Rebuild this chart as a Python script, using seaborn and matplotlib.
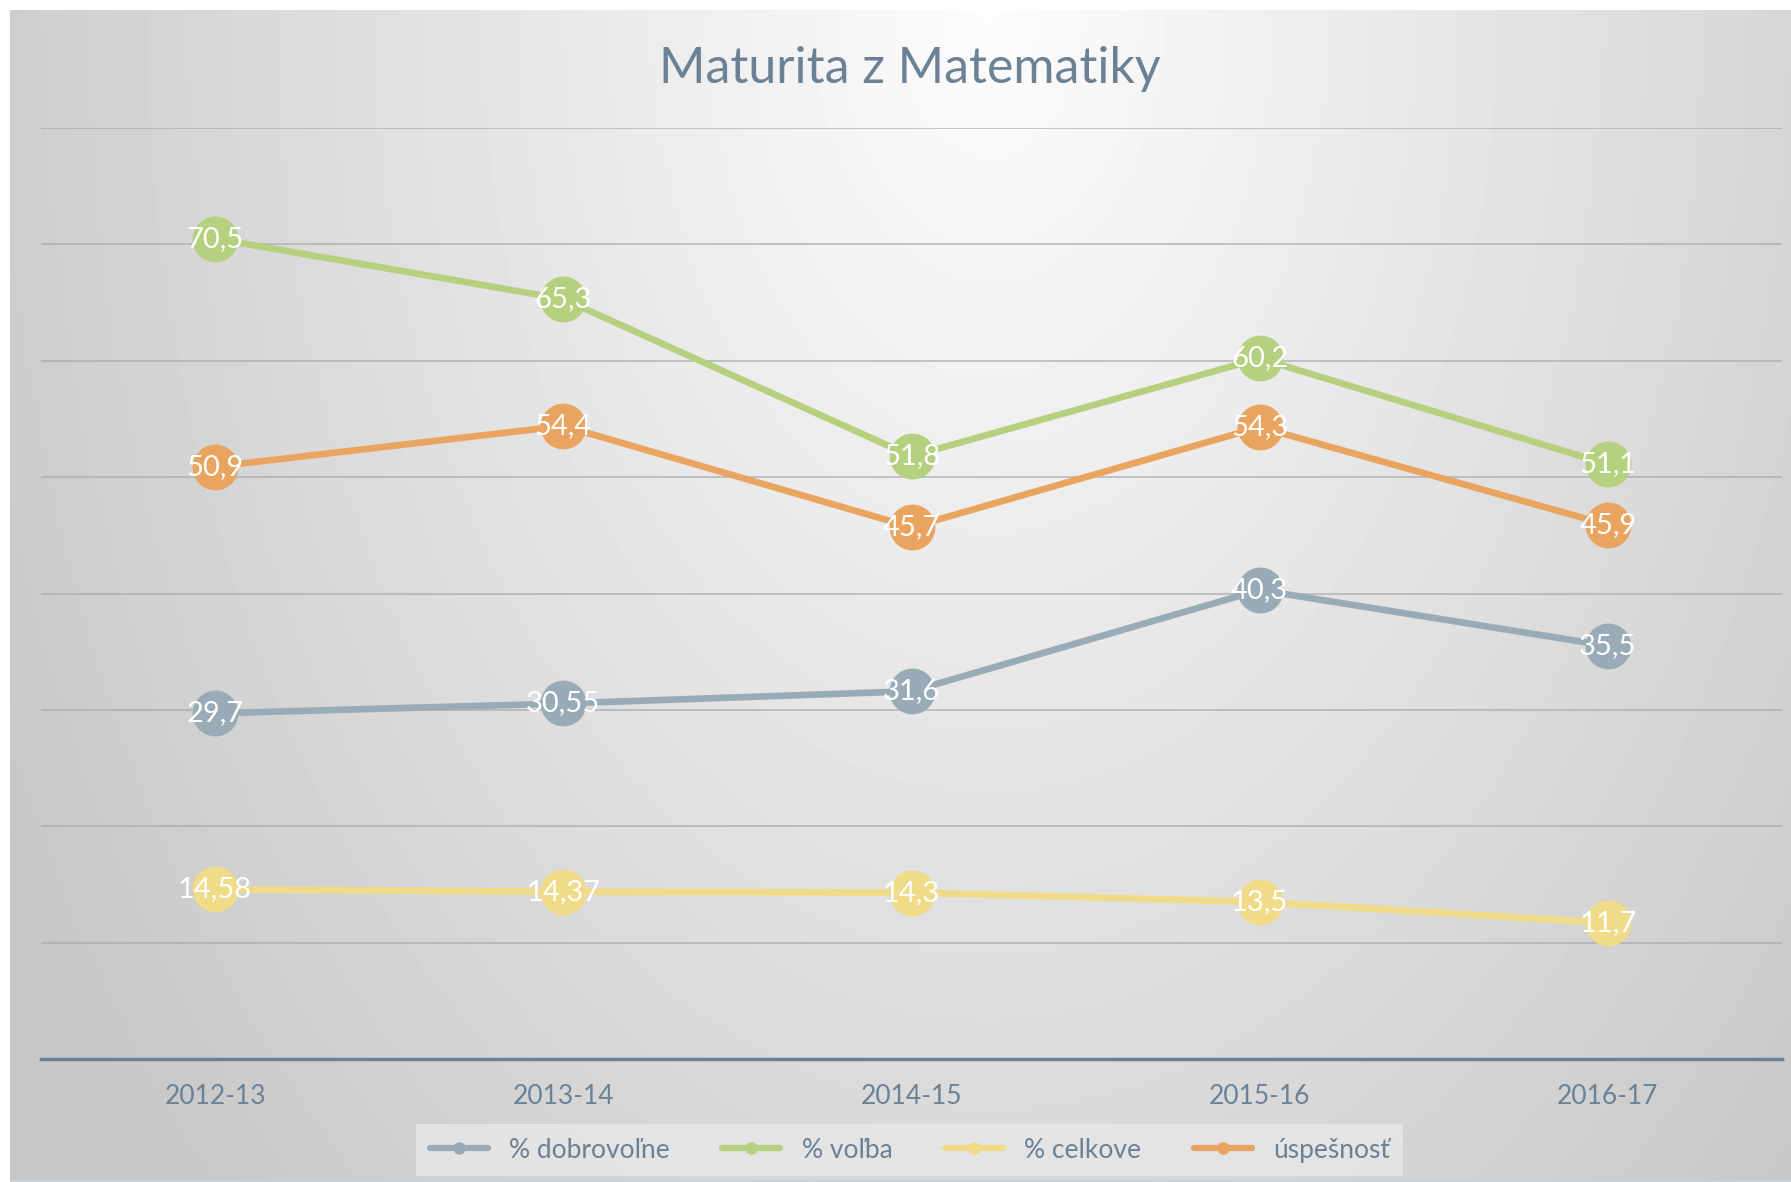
import numpy as np
import pandas as pd
import matplotlib.pyplot as plt
import seaborn as sns
from matplotlib.lines import Line2D

years = ["2012-13", "2013-14", "2014-15", "2015-16", "2016-17"]
dobrovolne = [29.7, 30.55, 31.6, 40.3, 35.5]
volba = [70.5, 65.3, 51.8, 60.2, 51.1]
celkove = [14.58, 14.37, 14.3, 13.5, 11.7]
uspesnost = [50.9, 54.4, 45.7, 54.3, 45.9]
series_names = ["% dobrovoľne", "% voľba", "% celkove", "úspešnosť"]
colors = ["#9aabb8", "#b5d07f", "#f0dc88", "#e9a460"]

df = pd.DataFrame({"rok": years, series_names[0]: dobrovolne, series_names[1]: volba,
                   series_names[2]: celkove, series_names[3]: uspesnost})
df_long = df.melt(id_vars="rok", var_name="serie", value_name="hodnota")
df_long["x"] = df_long["rok"].map({y: i for i, y in enumerate(years)})

sns.set_style("white")
plt.rcParams["font.family"] = ["Lato", "DejaVu Sans"]
txt_color = "#6b8196"

fig = plt.figure(figsize=(17.91, 11.82), dpi=100)

# background gradient (light at top centre, darker towards edges)
bg = fig.add_axes([10 / 1791, 0, 1 - 10 / 1791, 1 - 10 / 1182], zorder=-10)
yy, xx = np.mgrid[0:1:300j, 0:1:400j]
r = np.sqrt(((xx - 0.55) / 0.6) ** 2 + (yy / 1.4) ** 2)
shade = np.clip(0.99 - 0.2 * r, 0.78, 0.99)
bg.imshow(shade, cmap="gray", vmin=0, vmax=1, aspect="auto", extent=[0, 1, 1, 0])
bg.axhline(1, color="#c9d1da", lw=3)
bg.set_axis_off()

ax = fig.add_axes([41 / 1791, 1 - 1059 / 1182, (1782 - 41) / 1791, (1059 - 128) / 1182])
ax.patch.set_alpha(0)

sns.lineplot(data=df_long, x="x", y="hodnota", hue="serie", palette=colors,
             hue_order=series_names, marker="o", markersize=33, linewidth=4.8,
             markeredgewidth=0, legend=False, ax=ax, zorder=3)

for name in series_names:
    for xi, v in zip(range(len(years)), df[name]):
        ax.text(xi, v, f"{v:g}".replace(".", ","), color="white", fontsize=21,
                ha="center", va="center", zorder=5)

ax.set_xlim(-0.5, 4.5)
ax.set_ylim(0, 80)
ax.set_yticks(range(0, 81, 10))
ax.set_yticklabels([])
ax.tick_params(axis="y", length=0)
ax.grid(axis="y", color="#a4a8ad", lw=1.2, alpha=0.75)
ax.set_xticks(range(len(years)))
ax.set_xticklabels(years, fontsize=19, color=txt_color)
ax.tick_params(axis="x", length=0, pad=18)
ax.set_xlabel("")
ax.set_ylabel("")
for s in ["left", "right", "top"]:
    ax.spines[s].set_visible(False)
ax.spines["bottom"].set_color("#6b8196")
ax.spines["bottom"].set_linewidth(2.5)

fig.text(0.508, 0.942, "Maturita z Matematiky", fontsize=36, color=txt_color,
         ha="center", va="center")

handles = [Line2D([0], [0], color=c, lw=4.5, marker="o", markersize=8) for c in colors]
leg = fig.legend(handles, series_names, loc="center", bbox_to_anchor=(0.508, 0.027),
                 ncol=4, fontsize=19, frameon=True, fancybox=False, handlelength=2.2,
                 columnspacing=2.0, borderpad=0.5)
leg.get_frame().set_facecolor("#e8e8e8")
leg.get_frame().set_edgecolor("none")
leg.get_frame().set_alpha(0.8)
for t in leg.get_texts():
    t.set_color(txt_color)

fig.savefig("out.png", dpi=100)
